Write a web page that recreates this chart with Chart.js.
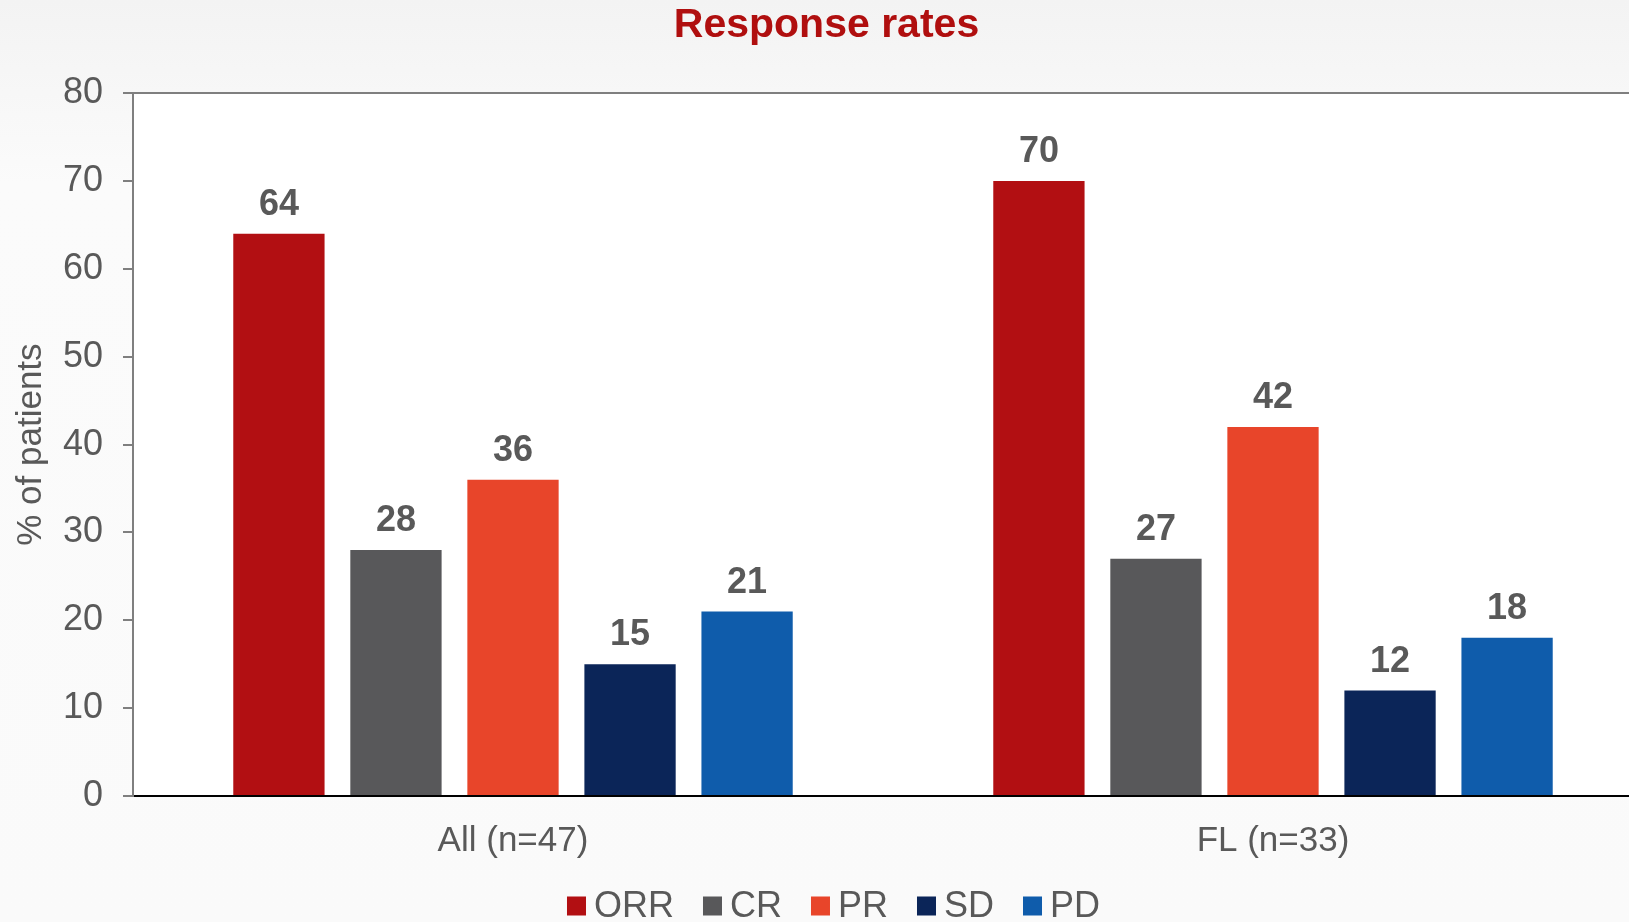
<!DOCTYPE html>
<html>
<head>
<meta charset="utf-8">
<title>Response rates</title>
<script src="https://cdn.jsdelivr.net/npm/chart.js@4/dist/chart.umd.min.js"></script>
<style>
  html, body { margin: 0; padding: 0; overflow: hidden; }
  body { background: linear-gradient(#f3f3f3, #fbfbfb 20%, #fafafa); width: 1629px; height: 922px; }
  #wrap { width: 1655px; height: 922px; }
</style>
</head>
<body>
<div id="wrap"><canvas id="myChart"></canvas></div>
<script>
const groups = ["All (n=47)", "FL (n=33)"]
const seriesNames = ["ORR", "CR", "PR", "SD", "PD"]
const orrValues = [64, 70]
const crValues = [28, 27]
const prValues = [36, 42]
const sdValues = [15, 12]
const pdValues = [21, 18]
const yTicks = [0, 10, 20, 30, 40, 50, 60, 70, 80]

const colors = ["#b20f12", "#58585a", "#e8452a", "#0b2558", "#0f5cab"]
const allValues = [orrValues, crValues, prValues, sdValues, pdValues]
const textGray = "#595959"
const fontName = "'Liberation Sans', Arial, sans-serif"

let datasets = []
for (let i = 0; i < seriesNames.length; i += 1) {
    datasets.push({
        label: seriesNames[i],
        data: allValues[i],
        backgroundColor: colors[i],
        borderWidth: 0
    })
}

// white plot area on the grey page
const plotBackground = {
    id: "plotBackground",
    beforeDraw(chart) {
        const a = chart.chartArea
        chart.ctx.save()
        chart.ctx.fillStyle = "#ffffff"
        chart.ctx.fillRect(a.left, a.top, a.right - a.left, a.bottom - a.top)
        chart.ctx.restore()
    }
}

// value printed over each bar
const barValues = {
    id: "barValues",
    afterDatasetsDraw(chart) {
        const ctx = chart.ctx
        ctx.save()
        ctx.font = "bold 36px " + fontName
        ctx.fillStyle = textGray
        ctx.textAlign = "center"
        ctx.textBaseline = "alphabetic"
        chart.data.datasets.forEach(function (ds, i) {
            chart.getDatasetMeta(i).data.forEach(function (bar, j) {
                ctx.fillText(ds.data[j], bar.x, bar.y - 19)
            })
        })
        ctx.restore()
    }
}

// compact legend row under the axis: small square, tight gap, label
const bottomLegend = {
    id: "bottomLegend",
    afterDraw(chart) {
        const ctx = chart.ctx
        const box = 19
        const gap = 8
        const spacing = 29
        ctx.save()
        ctx.font = "36px " + fontName
        ctx.textBaseline = "middle"
        const items = chart.data.datasets.map(ds => ({
            text: ds.label,
            color: ds.backgroundColor,
            w: ctx.measureText(ds.label).width
        }))
        let total = 0
        items.forEach(function (it) { total += box + gap + it.w })
        total += spacing * (items.length - 1)
        let x = chart.width / 2 + 6 - total / 2
        const y = chart.height - 16
        items.forEach(function (it) {
            ctx.fillStyle = it.color
            ctx.fillRect(x, y - box / 2, box, box)
            ctx.fillStyle = textGray
            ctx.fillText(it.text, x + box + gap, y + 1)
            x += box + gap + it.w + spacing
        })
        ctx.restore()
    }
}

new Chart(document.getElementById("myChart"), {
    type: "bar",
    data: { labels: groups, datasets: datasets },
    plugins: [plotBackground, barValues, bottomLegend],
    options: {
        responsive: true,
        maintainAspectRatio: false,
        animation: false,
        categoryPercentage: 0.77,
        barPercentage: 0.78,
        layout: { padding: { left: 0, right: 2, top: 0, bottom: 36 } },
        plugins: {
            title: {
                display: true,
                text: "Response rates",
                color: "#b00f0f",
                font: { family: fontName, size: 41, weight: "bold" },
                padding: { top: 1, bottom: 43 }
            },
            legend: { display: false },
            tooltip: { enabled: false }
        },
        scales: {
            x: {
                grid: { display: true, color: "transparent", drawTicks: false },
                border: { color: "#000000", width: 2 },
                ticks: {
                    color: textGray,
                    padding: 24,
                    font: { family: fontName, size: 35 }
                }
            },
            y: {
                min: 0,
                max: 80,
                afterBuildTicks(scale) {
                    scale.ticks = yTicks.map(v => ({ value: v }))
                },
                afterFit(scale) {
                    scale.width = 133
                },
                grid: {
                    color: ctx => ctx.tick && ctx.tick.value === 80 ? "#7f7f7f" : "transparent",
                    lineWidth: 2,
                    tickColor: "#7f7f7f",
                    tickLength: 10
                },
                border: { color: "#7f7f7f", width: 2 },
                ticks: {
                    color: textGray,
                    padding: 20,
                    font: { family: fontName, size: 36 }
                },
                title: {
                    display: true,
                    text: "% of patients",
                    color: textGray,
                    font: { family: fontName, size: 35 },
                    padding: { top: 10, bottom: 0 }
                }
            }
        }
    }
})
</script>
</body>
</html>
